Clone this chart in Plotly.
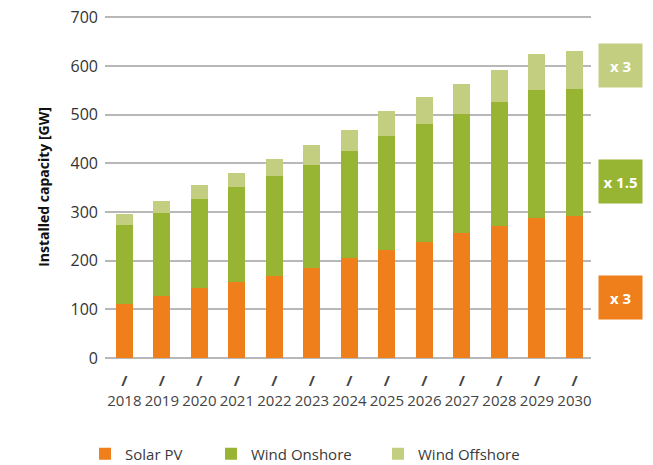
import plotly.graph_objects as go

# Installed capacity by year [GW]
years = [2018, 2019, 2020, 2021, 2022, 2023, 2024, 2025, 2026, 2027, 2028, 2029, 2030]
solar_pv = [111, 127, 143, 156, 168, 185, 206, 222, 238, 256, 271, 288, 292]
wind_onshore = [162, 171, 183, 195, 206, 211, 219, 234, 243, 245, 255, 262, 260]
wind_offshore = [22, 24, 29, 29, 35, 41, 43, 51, 55, 62, 66, 74, 79]
tick_text = ["<b>/</b><br>" + str(y) for y in years]
y_ticks = [0, 100, 200, 300, 400, 500, 600, 700]

# Growth factors 2018 -> 2030, shown beside the last bar
growth_labels = ["x 3", "x 1.5", "x 3"]
growth_y = [602, 363, 125]

C_SOLAR = "#EF7F1A"
C_ONSHORE = "#98B433"
C_OFFSHORE = "#C3CE80"
FONT = "Open Sans, sans-serif"
TEXT = "#333333"

fig = go.Figure()
series = [
    ("Solar PV", solar_pv, C_SOLAR, "legend"),
    ("Wind Onshore", wind_onshore, C_ONSHORE, "legend2"),
    ("Wind Offshore", wind_offshore, C_OFFSHORE, "legend3"),
]
for name, vals, color, leg in series:
    fig.add_trace(go.Bar(
        x=years, y=vals, name=name, width=0.453,
        marker=dict(color=color, line=dict(width=0)),
        legend=leg, showlegend=True,
    ))

for text, yv, color in zip(growth_labels, growth_y, [C_OFFSHORE, C_ONSHORE, C_SOLAR]):
    fig.add_annotation(
        xref="paper", yref="y", x=1.0607, y=yv,
        text="<b>" + text + "</b>", showarrow=False,
        width=43, height=43, bgcolor=color, borderpad=0,
        font=dict(family=FONT, size=15, color="white"),
        xanchor="center", yanchor="middle",
    )

legend_common = dict(
    orientation="h", xref="container", yref="container",
    y=0.0237, yanchor="middle", xanchor="left",
    font=dict(family=FONT, size=15, color="#3a3a3a"),
    bgcolor="rgba(0,0,0,0)", borderwidth=0,
)
fig.update_layout(
    width=653, height=465,
    margin=dict(l=105, r=62, t=16, b=107, autoexpand=False),
    plot_bgcolor="white", paper_bgcolor="white",
    barmode="stack", showlegend=True,
    font=dict(family=FONT, color=TEXT),
    legend=dict(x=0.1302, **legend_common),
    legend2=dict(x=0.3231, **legend_common),
    legend3=dict(x=0.5789, **legend_common),
    xaxis=dict(
        range=[2017.485, 2030.44],
        tickmode="array", tickvals=years, ticktext=tick_text,
        tickfont=dict(family=FONT, size=15, color="#444444"),
        showgrid=False, zeroline=False, showline=False, ticks="",
        ticklabelstandoff=12,
    ),
    yaxis=dict(
        range=[0, 703], tickmode="array", tickvals=y_ticks,
        tickfont=dict(family=FONT, size=16, color=TEXT),
        showgrid=True, gridcolor="#b8b8b8", gridwidth=1.5,
        zeroline=True, zerolinecolor="#b8b8b8", zerolinewidth=1.5,
        showline=False, ticks="", ticklabelstandoff=6,
        title=dict(text="<b>Installed capacity [GW]</b>", standoff=17,
                   font=dict(family=FONT, size=14, color="#111111")),
    ),
)

fig.write_html("out.html")
